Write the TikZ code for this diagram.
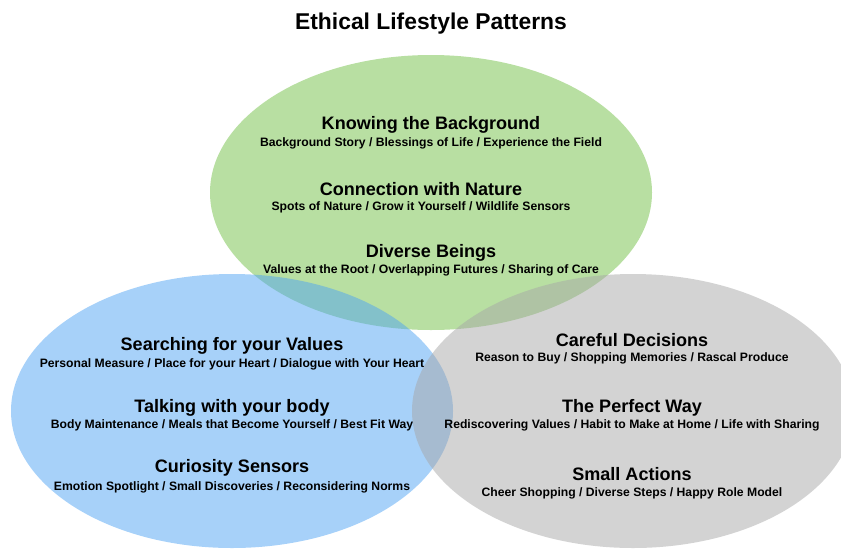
\documentclass[tikz,border=0pt]{standalone}
\usepackage{fontspec}
\setmainfont{Liberation Sans}
\usepackage{tikz}

\definecolor{setgreen}{RGB}{113,191,69}
\definecolor{setblue}{RGB}{79,163,243}
\definecolor{setgray}{RGB}{167,167,167}

\begin{document}
\begin{tikzpicture}[x=0.03cm, y=-0.03cm,
	every node/.style={font=\bfseries, inner sep=0pt, anchor=center},
	set/.style={fill opacity=0.5},
	head/.style={font=\bfseries\fontsize{15.4}{17}\selectfont},
	items/.style={font=\bfseries\fontsize{10.4}{12}\selectfont}]
	\useasboundingbox (0,0) rectangle (841,548);
	% three overlapping sets
	\fill[set, fill=setgreen] (431,192.5) ellipse [x radius=221, y radius=137.5];
	\fill[set, fill=setblue] (232,411) ellipse [x radius=221, y radius=137];
	\fill[set, fill=setgray] (633,411) ellipse [x radius=221, y radius=137];
	\node[font=\bfseries\fontsize{19.5}{21}\selectfont] (title) at (431,24) {Ethical Lifestyle Patterns};
	% green set
	\node[head] (bg) at (431,125) {Knowing the Background};
	\node[items] (bgi) at (431,143) {Background Story / Blessings of Life / Experience the Field};
	\node[head] (nat) at (421,189) {Connection with Nature};
	\node[items] (nati) at (421,207) {Spots of Nature / Grow it Yourself / Wildlife Sensors};
	\node[head] (div) at (431,253) {Diverse Beings};
	\node[items] (divi) at (431,270) {Values at the Root / Overlapping Futures / Sharing of Care};
	% blue set
	\node[head] (val) at (232,346) {Searching for your Values};
	\node[items] (vali) at (232,364) {Personal Measure / Place for your Heart / Dialogue with Your Heart};
	\node[head] (body) at (232,408) {Talking with your body};
	\node[items] (bodyi) at (232,425) {Body Maintenance / Meals that Become Yourself / Best Fit Way};
	\node[head] (cur) at (232,468) {Curiosity Sensors};
	\node[items] (curi) at (232,487) {Emotion Spotlight / Small Discoveries / Reconsidering Norms};
	% gray set
	\node[head] (care) at (632,340) {Careful Decisions};
	\node[items] (carei) at (632,358) {Reason to Buy / Shopping Memories / Rascal Produce};
	\node[head] (way) at (632,408) {The Perfect Way};
	\node[items] (wayi) at (632,425) {Rediscovering Values / Habit to Make at Home / Life with Sharing};
	\node[head] (act) at (632,474) {Small Actions};
	\node[items] (acti) at (632,493) {Cheer Shopping / Diverse Steps / Happy Role Model};
\end{tikzpicture}
\end{document}
